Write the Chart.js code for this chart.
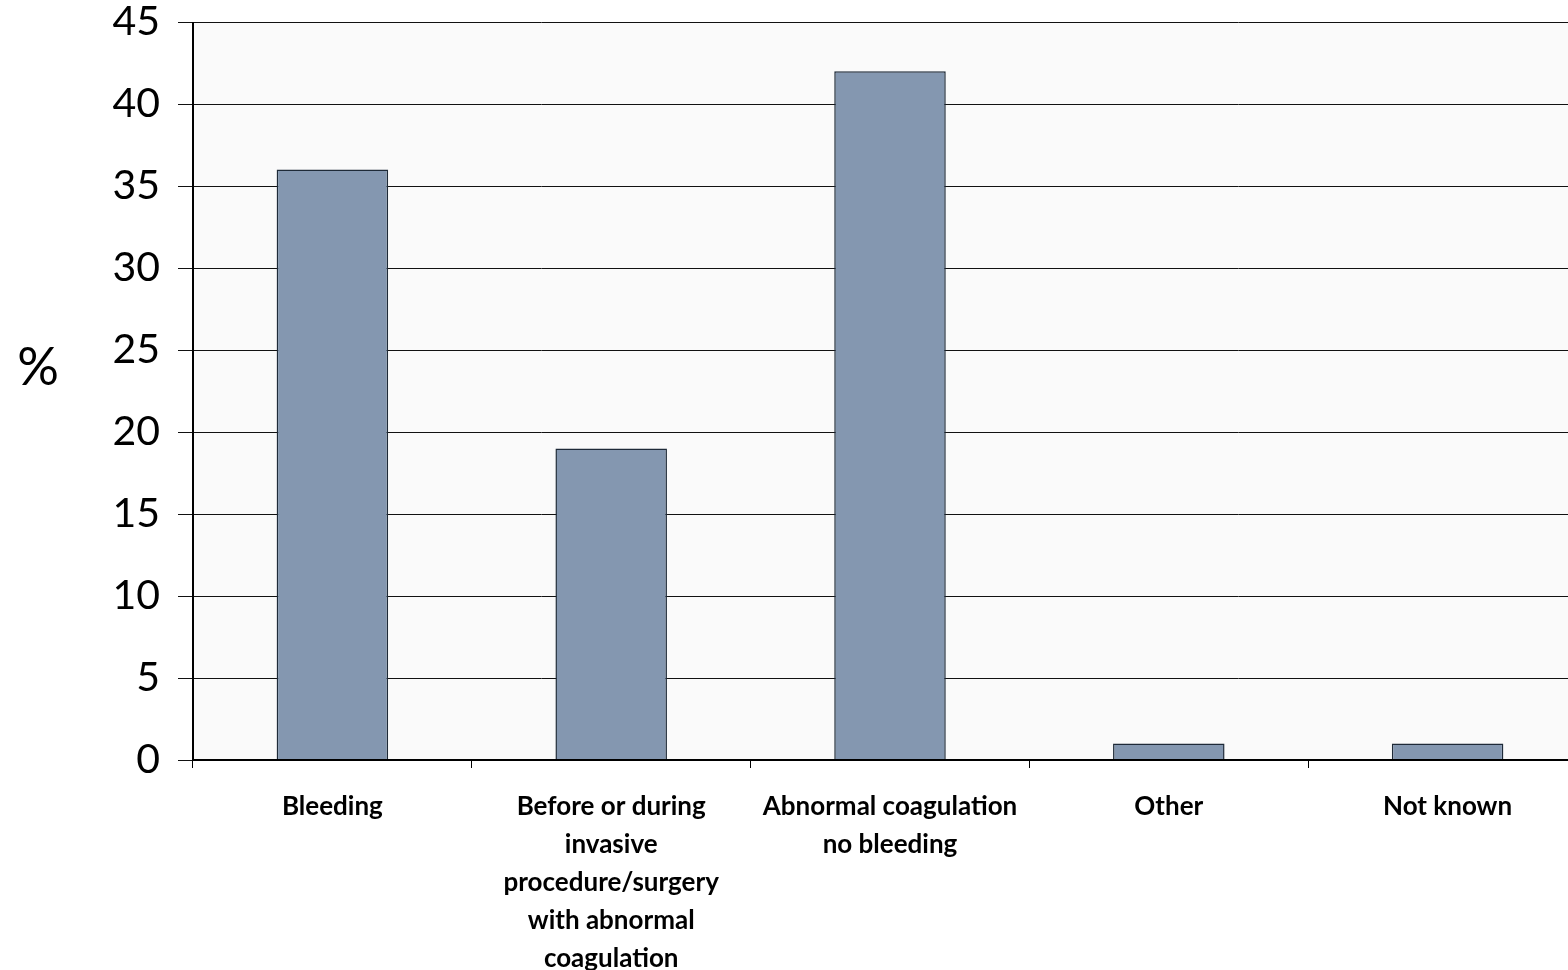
<!DOCTYPE html>
<html>
<head>
<meta charset="utf-8">
<script src="https://cdn.jsdelivr.net/npm/chart.js@4/dist/chart.umd.min.js"></script>
<style>
  html, body { margin: 0; padding: 0; background: #ffffff; overflow: hidden; }
  #wrap { position: relative; width: 1600px; height: 970px; }
</style>
</head>
<body>
<div id="wrap"><canvas id="c"></canvas></div>
<script>
// Reason for treatment, share of patients (%)
const categories = [
  ["Bleeding"],
  ["Before or during", "invasive", "procedure/surgery", "with abnormal", "coagulation"],
  ["Abnormal coagulation", "no bleeding"],
  ["Other"],
  ["Not known"]
];
const percentValues = [36, 19, 42, 1, 1];
const yTicks = [0, 5, 10, 15, 20, 25, 30, 35, 40, 45];
const yAxisLabel = "%";

const FONT = "Lato, 'Open Sans', sans-serif";

// Light plot-area background and horizontal "%" axis label
const decor = {
  id: 'decor',
  beforeDraw(chart) {
    const { ctx, chartArea: a } = chart;
    ctx.save();
    ctx.fillStyle = '#fafafa';
    ctx.fillRect(a.left, a.top, a.right - a.left, a.bottom - a.top);
    ctx.restore();
  },
  afterDraw(chart) {
    const { ctx, chartArea: a } = chart;
    ctx.save();
    ctx.fillStyle = '#000';
    ctx.font = `52px ${FONT}`;
    ctx.textAlign = 'center';
    ctx.textBaseline = 'middle';
    ctx.fillText(yAxisLabel, 38, 368);
    // axis lines on left and bottom
    ctx.strokeStyle = '#000';
    ctx.lineWidth = 2;
    ctx.beginPath();
    ctx.moveTo(a.left, a.top);
    ctx.lineTo(a.left, a.bottom);
    ctx.lineTo(a.right, a.bottom);
    ctx.stroke();
    ctx.restore();
  }
};

new Chart(document.getElementById('c'), {
  type: 'bar',
  data: {
    labels: categories,
    datasets: [{
      data: percentValues,
      backgroundColor: '#8497b0',
      borderColor: '#1e2a38',
      borderWidth: 1.5,
      barPercentage: 0.4,
      categoryPercentage: 1.0
    }]
  },
  options: {
    responsive: true,
    maintainAspectRatio: false,
    animation: false,
    devicePixelRatio: 1,
    layout: { padding: { top: 22, right: 13, bottom: 0, left: 0 } },
    plugins: { legend: { display: false }, tooltip: { enabled: false } },
    scales: {
      x: {
        offset: true,
        grid: {
          offset: true,
          drawOnChartArea: false,
          drawTicks: true,
          tickLength: 8,
          color: '#000',
          lineWidth: 1
        },
        border: { display: false },
        ticks: {
          color: '#000',
          maxRotation: 0,
          autoSkip: false,
          padding: 20,
          font: { family: FONT, size: 26, weight: 'bold', lineHeight: 38 / 26 }
        },
        afterFit(scale) {
          scale.height = 210;
          scale.paddingLeft = 0;
          scale.paddingRight = 0;
        }
      },
      y: {
        min: 0,
        max: 45,
        afterBuildTicks(scale) { scale.ticks = yTicks.map(v => ({ value: v })); },
        grid: {
          color: '#111',
          lineWidth: 1,
          drawTicks: true,
          tickLength: 15
        },
        border: { display: false },
        ticks: {
          color: '#000',
          padding: 18,
          font: { family: FONT, size: 41 }
        },
        afterFit(scale) {
          scale.width = 193;
          scale.paddingTop = 0;
          scale.paddingBottom = 0;
        }
      }
    }
  },
  plugins: [decor]
});
</script>
</body>
</html>
